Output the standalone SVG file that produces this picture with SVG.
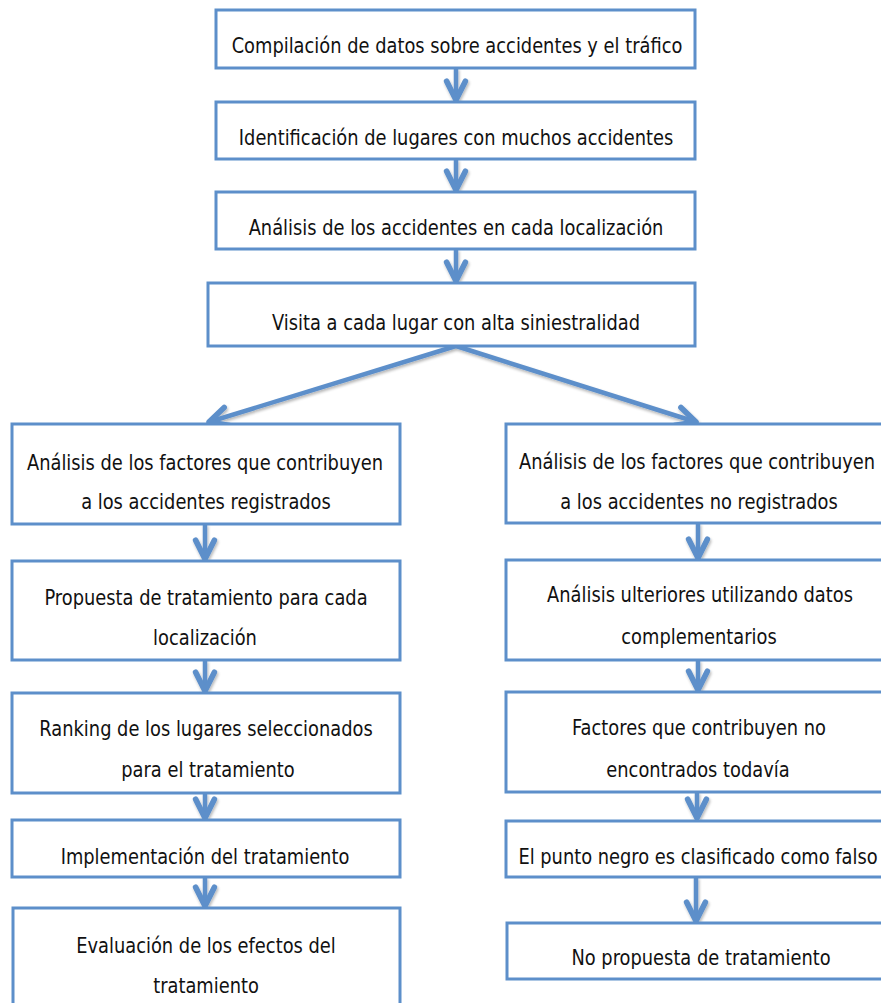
<svg xmlns="http://www.w3.org/2000/svg" width="881" height="1003" viewBox="0 0 881 1003">
  <style>
    .box { fill: #ffffff; stroke: #5d8fca; stroke-width: 3; }
    .lbl { font-family: "DejaVu Sans", "Liberation Sans", sans-serif; font-size: 21px; fill: #111111; text-anchor: middle; }
    .conn { stroke: #5d8fca; stroke-width: 4.5; fill: none; marker-end: url(#chev); }
  </style>
  <defs>
    <marker id="chev" markerUnits="userSpaceOnUse" markerWidth="30" markerHeight="30" viewBox="-20 -10 24 20" refX="0" refY="0" orient="auto" overflow="visible">
      <path d="M-15,-7.5 L0,0 L-15,7.5" fill="none" stroke="#5d8fca" stroke-width="4.5" stroke-linejoin="round" stroke-linecap="round"/>
    </marker>
    <filter id="soft" x="-20%" y="-20%" width="140%" height="140%">
      <feGaussianBlur in="SourceAlpha" stdDeviation="1.5"/>
      <feOffset dx="1" dy="2" result="b"/>
      <feComponentTransfer><feFuncA type="linear" slope="0.3"/></feComponentTransfer>
      <feMerge><feMergeNode/><feMergeNode in="SourceGraphic"/></feMerge>
    </filter>
  </defs>

  <!-- connectors -->
  <g id="connectors" filter="url(#soft)">
    <line class="conn" x1="456" y1="68" x2="456" y2="100"/>
    <line class="conn" x1="456" y1="159" x2="456" y2="190"/>
    <line class="conn" x1="456" y1="249" x2="456" y2="281"/>
    <line class="conn" x1="456" y1="346" x2="209" y2="422"/>
    <line class="conn" x1="456" y1="346" x2="696" y2="422"/>
    <line class="conn" x1="205" y1="524" x2="205" y2="559"/>
    <line class="conn" x1="205" y1="660" x2="205" y2="691"/>
    <line class="conn" x1="205" y1="793" x2="205" y2="818"/>
    <line class="conn" x1="205" y1="877" x2="205" y2="906"/>
    <line class="conn" x1="698" y1="523" x2="698" y2="558"/>
    <line class="conn" x1="698" y1="660" x2="698" y2="690"/>
    <line class="conn" x1="697" y1="792" x2="697" y2="818"/>
    <line class="conn" x1="696" y1="877" x2="696" y2="921"/>
  </g>

  <!-- central column (labels are set narrow: horizontal scale 0.85) -->
  <g id="n1">
    <rect class="box" x="216" y="10" width="479" height="58"/>
    <text class="lbl" transform="matrix(0.85 0 0 1 457 53)">Compilación de datos sobre accidentes y el tráfico</text>
  </g>
  <g id="n2">
    <rect class="box" x="216" y="102" width="479" height="57"/>
    <text class="lbl" transform="matrix(0.85 0 0 1 456 145)">Identificación de lugares con muchos accidentes</text>
  </g>
  <g id="n3">
    <rect class="box" x="216" y="192" width="479" height="57"/>
    <text class="lbl" transform="matrix(0.85 0 0 1 456 235)">Análisis de los accidentes en cada localización</text>
  </g>
  <g id="n4">
    <rect class="box" x="208" y="283" width="487" height="63"/>
    <text class="lbl" transform="matrix(0.85 0 0 1 456 330)">Visita a cada lugar con alta siniestralidad</text>
  </g>

  <!-- left branch -->
  <g id="l1">
    <rect class="box" x="12" y="424" width="388" height="100"/>
    <text class="lbl" transform="matrix(0.85 0 0 1 205 470)">Análisis de los factores que contribuyen</text>
    <text class="lbl" transform="matrix(0.85 0 0 1 206 509)">a los accidentes registrados</text>
  </g>
  <g id="l2">
    <rect class="box" x="12" y="561" width="388" height="99"/>
    <text class="lbl" transform="matrix(0.85 0 0 1 206 605)">Propuesta de tratamiento para cada</text>
    <text class="lbl" transform="matrix(0.85 0 0 1 205 645)">localización</text>
  </g>
  <g id="l3">
    <rect class="box" x="12" y="693" width="388" height="100"/>
    <text class="lbl" transform="matrix(0.85 0 0 1 206 736)">Ranking de los lugares seleccionados</text>
    <text class="lbl" transform="matrix(0.85 0 0 1 208 777)">para el tratamiento</text>
  </g>
  <g id="l4">
    <rect class="box" x="12" y="820" width="388" height="57"/>
    <text class="lbl" transform="matrix(0.85 0 0 1 205 864)">Implementación del tratamiento</text>
  </g>
  <g id="l5">
    <rect class="box" x="13" y="908" width="387" height="110"/>
    <text class="lbl" transform="matrix(0.85 0 0 1 206 953)">Evaluación de los efectos del</text>
    <text class="lbl" transform="matrix(0.85 0 0 1 206 993)">tratamiento</text>
  </g>

  <!-- right branch -->
  <g id="r1">
    <rect class="box" x="506" y="424" width="390" height="99"/>
    <text class="lbl" transform="matrix(0.85 0 0 1 697 469)">Análisis de los factores que contribuyen</text>
    <text class="lbl" transform="matrix(0.85 0 0 1 699 509)">a los accidentes no registrados</text>
  </g>
  <g id="r2">
    <rect class="box" x="506" y="560" width="390" height="100"/>
    <text class="lbl" transform="matrix(0.85 0 0 1 700 602)">Análisis ulteriores utilizando datos</text>
    <text class="lbl" transform="matrix(0.85 0 0 1 699 644)">complementarios</text>
  </g>
  <g id="r3">
    <rect class="box" x="506" y="692" width="390" height="100"/>
    <text class="lbl" transform="matrix(0.85 0 0 1 699 735)">Factores que contribuyen no</text>
    <text class="lbl" transform="matrix(0.85 0 0 1 698 777)">encontrados todavía</text>
  </g>
  <g id="r4">
    <rect class="box" x="506" y="821" width="390" height="56"/>
    <text class="lbl" transform="matrix(0.85 0 0 1 698 864)">El punto negro es clasificado como falso</text>
  </g>
  <g id="r5">
    <rect class="box" x="507" y="923" width="389" height="56"/>
    <text class="lbl" transform="matrix(0.85 0 0 1 701 965)">No propuesta de tratamiento</text>
  </g>
</svg>
